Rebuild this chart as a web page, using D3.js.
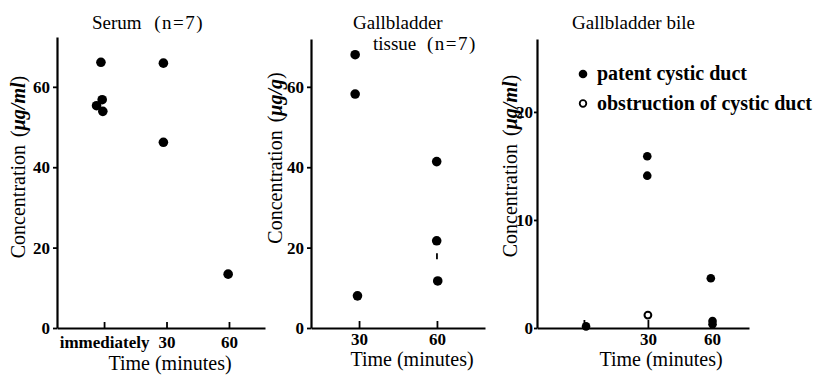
<!DOCTYPE html>
<html><head><meta charset="utf-8">
<script src="https://cdn.jsdelivr.net/npm/d3@7"></script>
<style>body{margin:0;background:#fff} svg{display:block}</style>
</head><body>
<script>
// ---- Data ----
// Serum (n=7): time in minutes (0 = immediately), concentration µg/ml
const serumTime = [-1.5, -0.9, -3.6, -0.6, 28.5, 28.5, 59.6];
const serumConc = [66.1, 56.8, 55.3, 53.9, 65.9, 46.2, 13.4];
const serumTickValues = [0, 30, 60];
const serumTickLabels = ["immediately", "30", "60"];
const serumYTicks = [0, 20, 40, 60];

// Gallbladder tissue (n=7): µg/g
const tissueTime = [28.5, 28.5, 29.4, 59.9, 59.9, 60.3];
const tissueConc = [68.0, 58.2, 8.0, 41.4, 21.7, 11.7];
const tissueMarkTime = [60];
const tissueMarkLow = [17.1];
const tissueMarkHigh = [18.6];
const tissueTickValues = [30, 60];
const tissueTickLabels = ["30", "60"];
const tissueYTicks = [0, 20, 40, 60];

// Gallbladder bile: µg/ml
const bilePatentTime = [1, 29.7, 29.7, 59.5, 60.3, 60.3];
const bilePatentConc = [0.15, 15.9, 14.1, 4.6, 0.65, 0.35];
const bileObstrTime = [30];
const bileObstrConc = [1.2];
const bileTickValues = [0, 30, 60];
const bileTickLabels = ["", "30", "60"];
const bileYTicks = [0, 10, 20];
const legendLabels = ["patent cystic duct", "obstruction of cystic duct"];

const W = 832, H = 375;
const FONT = "'Liberation Serif','DejaVu Serif',serif";

const svg = d3.select("body").append("svg").attr("width", W).attr("height", H)
  .style("font-family", FONT);

function panel(cfg) {
  const x = d3.scaleLinear().domain(cfg.xDomain).range(cfg.xRange);
  const y = d3.scaleLinear().domain(cfg.yDomain).range(cfg.yRange);
  const g = svg.append("g");

  const xa = g.append("g").attr("transform", `translate(0,${cfg.yRange[0]})`)
    .call(d3.axisBottom(x).tickValues(cfg.xTicks)
      .tickFormat((d, i) => cfg.xLabels[i])
      .tickSizeInner(-cfg.xTickLen).tickSizeOuter(0).tickPadding(cfg.xPad));
  const ya = g.append("g").attr("transform", `translate(${cfg.xRange[0]},0)`)
    .call(d3.axisLeft(y).tickValues(cfg.yTicks).tickSizeInner(cfg.yTickLen)
      .tickSizeOuter(0).tickPadding(cfg.yPad));
  [xa, ya].forEach(a => {
    a.attr("font-family", FONT).attr("font-size", 17);
    a.select(".domain").attr("stroke", "#000").attr("stroke-width", 2.2);
    a.selectAll(".tick line").attr("stroke", "#000").attr("stroke-width", 1.8);
    a.selectAll("text").attr("font-family", FONT).attr("font-size", 17)
      .attr("font-weight", "bold").attr("fill", "#000");
  });

  // y label
  const yl = g.append("text")
    .attr("transform", `translate(${cfg.yLabelX},${cfg.yLabelY}) rotate(-90)`)
    .attr("text-anchor", "middle").attr("dominant-baseline", "central")
    .attr("font-size", 20);
  yl.append("tspan").text("Concentration ");
  yl.append("tspan").attr("dx", 3).text("(");
  yl.append("tspan").attr("font-style", "italic").attr("font-weight", "bold").text(cfg.yUnit);
  yl.append("tspan").text(")");
  // x label
  g.append("text").attr("x", cfg.xLabelX).attr("y", cfg.xLabelY)
    .attr("text-anchor", "middle").attr("font-size", 20).text("Time (minutes)");
  return {g, x, y};
}

// Panel 1: Serum
const p1 = panel({
  xDomain: [-22.6, 77.3], xRange: [57, 265], yDomain: [0, 72.4], yRange: [328, 37],
  xTicks: serumTickValues, xLabels: serumTickLabels, xTickLen: 6, xPad: 8,
  yTicks: serumYTicks, yTickLen: 4, yPad: 3,
  yUnit: "μg/ml", yLabelX: 18, yLabelY: 167,
  xLabelX: 170, xLabelY: 370
});
p1.g.selectAll("circle.pt").data(serumConc).join("circle").attr("class", "pt")
  .attr("cx", (d, i) => p1.x(serumTime[i])).attr("cy", d => p1.y(d))
  .attr("r", 4.8).attr("fill", "#000");
const t1 = p1.g.append("text").attr("x", 148).attr("y", 29)
  .attr("text-anchor", "middle").attr("font-size", 19);
t1.append("tspan").text("Serum ");
t1.append("tspan").attr("dx", 8).attr("letter-spacing", 1.5).text("(n=7)");

// Panel 2: Gallbladder tissue
const p2 = panel({
  xDomain: [11.5, 78.5], xRange: [311, 485], yDomain: [0, 71.9], yRange: [328, 39],
  xTicks: tissueTickValues, xLabels: tissueTickLabels, xTickLen: 7, xPad: 5,
  yTicks: tissueYTicks, yTickLen: 4, yPad: 3,
  yUnit: "μg/g", yLabelX: 275, yLabelY: 158,
  xLabelX: 412, xLabelY: 366
});
p2.g.selectAll("circle.pt").data(tissueConc).join("circle").attr("class", "pt")
  .attr("cx", (d, i) => p2.x(tissueTime[i])).attr("cy", d => p2.y(d))
  .attr("r", 4.8).attr("fill", "#000");
p2.g.selectAll("line.mark").data(tissueMarkTime).join("line").attr("class", "mark")
  .attr("x1", d => p2.x(d)).attr("x2", d => p2.x(d))
  .attr("y1", (d, i) => p2.y(tissueMarkLow[i])).attr("y2", (d, i) => p2.y(tissueMarkHigh[i]))
  .attr("stroke", "#000").attr("stroke-width", 1.8);
p2.g.append("text").attr("x", 353).attr("y", 29).attr("font-size", 19).text("Gallbladder");
const t2 = p2.g.append("text").attr("x", 373).attr("y", 50).attr("font-size", 19);
t2.append("tspan").text("tissue ");
t2.append("tspan").attr("dx", 6).attr("letter-spacing", 1.5).text("(n=7)");

// Panel 3: Gallbladder bile
const p3 = panel({
  xDomain: [-22, 77.4], xRange: [537, 749], yDomain: [0, 26.75], yRange: [328, 39],
  xTicks: bileTickValues, xLabels: bileTickLabels, xTickLen: 8, xPad: 5,
  yTicks: bileYTicks, yTickLen: 3, yPad: 1,
  yUnit: "μg/ml", yLabelX: 510, yLabelY: 166,
  xLabelX: 661, xLabelY: 366
});
p3.g.selectAll("circle.pt").data(bilePatentConc).join("circle").attr("class", "pt")
  .attr("cx", (d, i) => p3.x(bilePatentTime[i])).attr("cy", d => p3.y(d))
  .attr("r", 4.3).attr("fill", "#000");
p3.g.selectAll("circle.op").data(bileObstrConc).join("circle").attr("class", "op")
  .attr("cx", (d, i) => p3.x(bileObstrTime[i])).attr("cy", d => p3.y(d))
  .attr("r", 3.4).attr("fill", "#fff").attr("stroke", "#000").attr("stroke-width", 2);
p3.g.append("text").attr("x", 572).attr("y", 29).attr("font-size", 19).text("Gallbladder bile");

// legend
const lg = p3.g.append("g");
legendLabels.forEach((lab, i) => {
  const yy = 74 + i * 29.5;
  if (i === 0) lg.append("circle").attr("cx", 583).attr("cy", yy).attr("r", 4.3).attr("fill", "#000");
  else lg.append("circle").attr("cx", 583).attr("cy", yy).attr("r", 3.3)
    .attr("fill", "#fff").attr("stroke", "#000").attr("stroke-width", 1.8);
  lg.append("text").attr("x", 597).attr("y", yy + 6).attr("font-size", 20)
    .attr("font-weight", "bold").text(lab);
});
</script>
</body></html>
